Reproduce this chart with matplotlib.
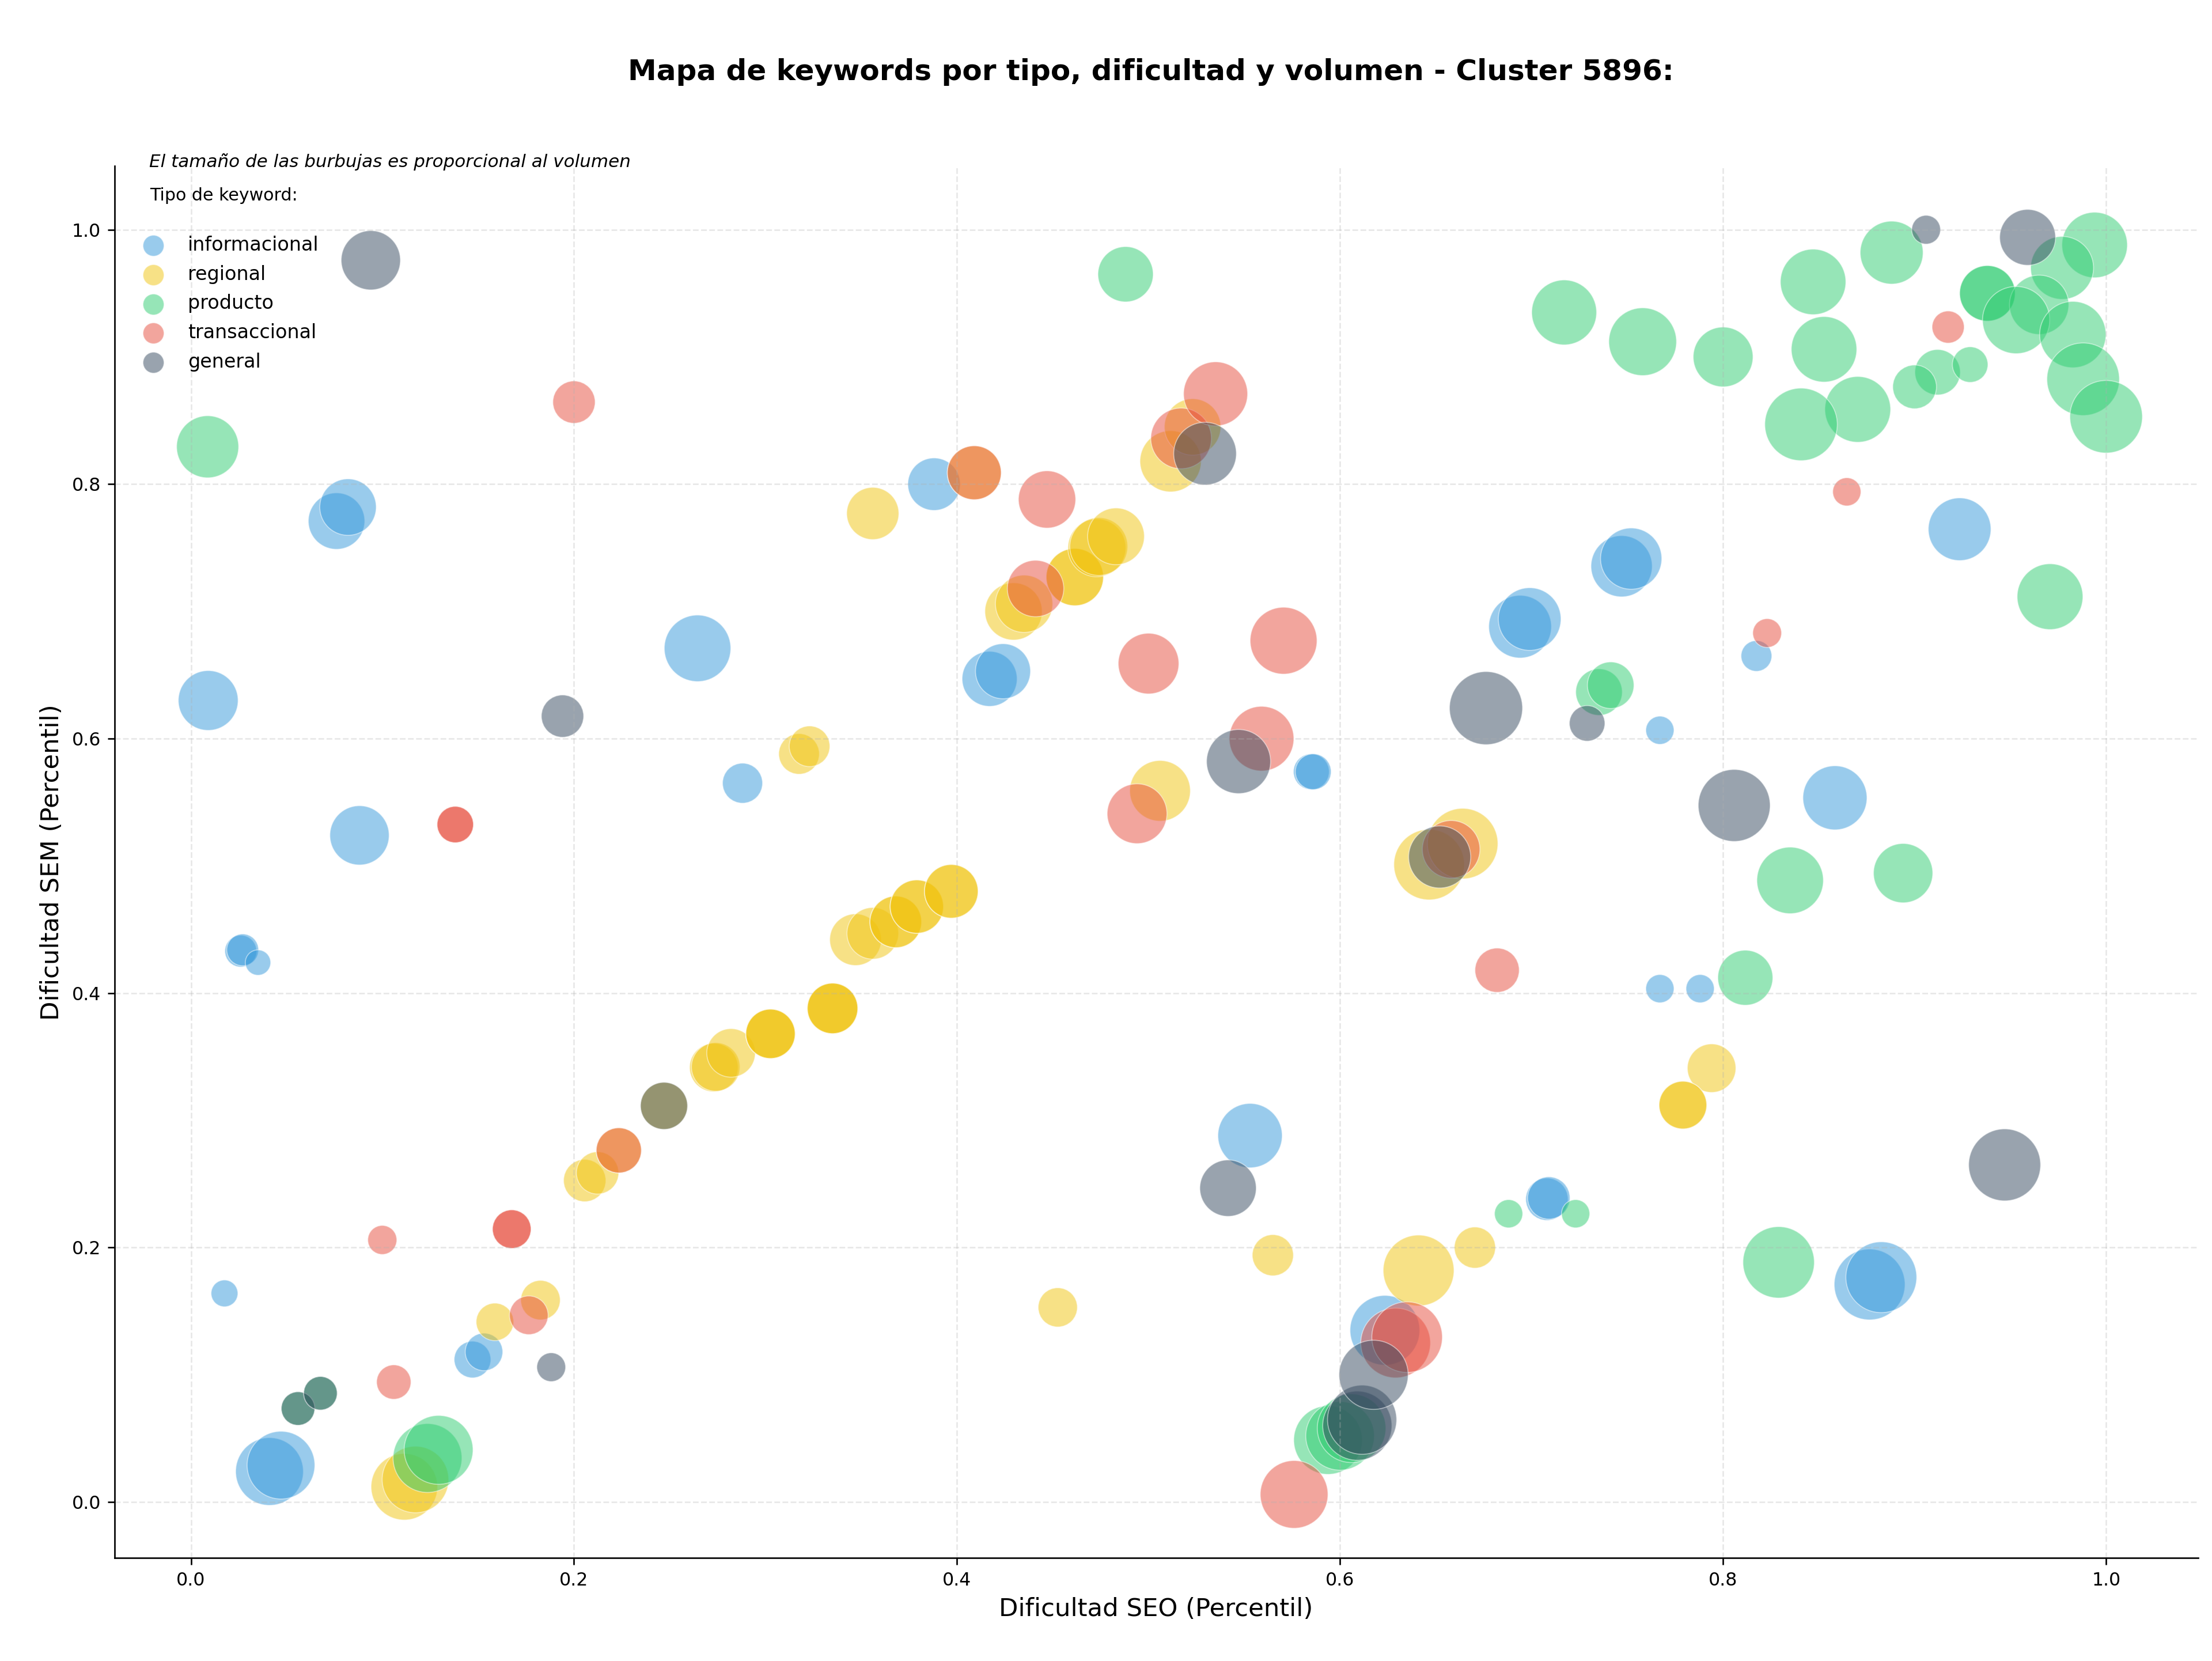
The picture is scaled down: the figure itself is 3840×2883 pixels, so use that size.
import matplotlib
matplotlib.use("Agg")
import matplotlib.pyplot as plt

# keyword data: SEO percentile, SEM percentile, volume
info_x = [0.009, 0.076, 0.082, 0.088, 0.026, 0.027, 0.035, 0.0175, 0.041, 0.047,
          0.147, 0.153, 0.2645, 0.288, 0.388, 0.417, 0.424, 0.585, 0.586, 0.553,
          0.694, 0.699, 0.747, 0.752, 0.767, 0.8174, 0.767, 0.788, 0.708, 0.709,
          0.8584, 0.9235, 0.8765, 0.8826, 0.6234]
info_y = [0.630, 0.771, 0.782, 0.524, 0.433, 0.434, 0.424, 0.164, 0.024, 0.029,
          0.112, 0.118, 0.671, 0.565, 0.800, 0.647, 0.653, 0.574, 0.574, 0.288,
          0.688, 0.694, 0.7355, 0.7415, 0.6066, 0.665, 0.4035, 0.4035, 0.238, 0.239,
          0.5535, 0.7646, 0.171, 0.1767, 0.135]
info_vol = [970, 864, 864, 953, 275, 275, 175, 195, 1244, 1244,
            365, 382, 1200, 435, 747, 821, 821, 348, 348, 1123,
            1065, 1065, 1017, 1017, 216, 257, 216, 216, 486, 486,
            1113, 1065, 1361, 1361, 1318]

reg_x = [0.356, 0.3175, 0.323, 0.2056, 0.2123, 0.2234, 0.247, 0.273, 0.274, 0.282,
         0.3026, 0.3026, 0.3026, 0.335, 0.335, 0.335, 0.347, 0.356, 0.368, 0.368,
         0.379, 0.379, 0.397, 0.397, 0.1587, 0.1825, 0.1114, 0.1172, 0.409, 0.4295,
         0.435, 0.4615, 0.4615, 0.473, 0.474, 0.483, 0.5115, 0.523, 0.506, 0.4526,
         0.5649, 0.641, 0.6704, 0.6465, 0.664, 0.794, 0.779, 0.779]
reg_y = [0.777, 0.588, 0.594, 0.2527, 0.2587, 0.2764, 0.3114, 0.3415, 0.342, 0.353,
         0.368, 0.368, 0.368, 0.388, 0.388, 0.388, 0.442, 0.447, 0.456, 0.456,
         0.468, 0.468, 0.480, 0.480, 0.1416, 0.1587, 0.012, 0.0177, 0.809, 0.700,
         0.706, 0.727, 0.727, 0.750, 0.751, 0.759, 0.818, 0.845, 0.559, 0.153,
         0.194, 0.182, 0.200, 0.501, 0.5175, 0.341, 0.312, 0.312]
reg_vol = [739, 448, 448, 486, 486, 553, 602, 639, 639, 639,
           661, 661, 661, 692, 692, 692, 723, 723, 723, 723,
           771, 771, 780, 780, 382, 423, 1200, 1200, 788, 890,
           890, 890, 890, 908, 908, 873, 1017, 864, 998, 417,
           460, 1361, 460, 1350, 1350, 639, 617, 617]

prod_x = [0.0087, 0.488, 0.1235, 0.1293, 0.0559, 0.0676, 0.5937, 0.600, 0.606, 0.688,
          0.723, 0.829, 0.8116, 0.835, 0.894, 0.7352, 0.7413, 0.9707, 0.717, 0.758,
          0.800, 0.847, 0.888, 0.994, 0.977, 0.938, 0.938, 0.965, 0.953, 0.9826,
          0.988, 1.000, 0.8527, 0.912, 0.929, 0.900, 0.8703, 0.8407]
prod_y = [0.8294, 0.965, 0.0346, 0.041, 0.0735, 0.0855, 0.0487, 0.052, 0.058, 0.2266,
          0.2266, 0.1884, 0.4121, 0.4886, 0.4943, 0.6366, 0.642, 0.7116, 0.935, 0.912,
          0.900, 0.959, 0.982, 0.988, 0.970, 0.950, 0.950, 0.941, 0.929, 0.9176,
          0.8825, 0.853, 0.906, 0.888, 0.894, 0.8765, 0.8588, 0.847]
prod_vol = [1045, 830, 1286, 1286, 306, 306, 1275, 1275, 1275, 216,
            216, 1383, 821, 1200, 953, 588, 588, 1173, 1143, 1244,
            970, 1163, 1074, 1163, 1074, 838, 838, 953, 1224, 1193,
            1427, 1427, 1163, 560, 343, 519, 1173, 1427]

trans_x = [0.200, 0.138, 0.138, 0.0999, 0.1675, 0.1675, 0.1764, 0.1059, 0.2234, 0.409,
           0.447, 0.441, 0.500, 0.5705, 0.559, 0.494, 0.517, 0.535, 0.576, 0.629,
           0.635, 0.682, 0.658, 0.8646, 0.9175, 0.823]
trans_y = [0.8645, 0.5325, 0.5325, 0.206, 0.2145, 0.2145, 0.1468, 0.0943, 0.2764, 0.809,
           0.788, 0.718, 0.659, 0.677, 0.600, 0.541, 0.836, 0.871, 0.006, 0.125,
           0.1296, 0.418, 0.513, 0.794, 0.9235, 0.683]
trans_vol = [486, 360, 360, 229, 405, 405, 405, 321, 553, 788,
             890, 864, 998, 1213, 1133, 970, 998, 1113, 1244, 1318,
             1350, 532, 900, 216, 281, 225]

gen_x = [0.0939, 0.194, 0.1881, 0.0559, 0.0676, 0.247, 0.5295, 0.547, 0.5415, 0.609,
         0.6115, 0.6175, 0.6762, 0.729, 0.8058, 0.947, 0.906, 0.959, 0.652]
gen_y = [0.976, 0.6177, 0.106, 0.0735, 0.0855, 0.3114, 0.824, 0.582, 0.2467, 0.060,
         0.0647, 0.100, 0.624, 0.612, 0.5475, 0.265, 1.000, 0.994, 0.507]
gen_vol = [953, 486, 225, 306, 306, 602, 1065, 1113, 864, 1297,
           1297, 1297, 1449, 343, 1405, 1405, 225, 847, 1045]

tipos = ["informacional", "regional", "producto", "transaccional", "general"]
colores = ["#3498db", "#f1c40f", "#2ecc71", "#e74c3c", "#34495e"]
series = [
    (info_x, info_y, info_vol),
    (reg_x, reg_y, reg_vol),
    (prod_x, prod_y, prod_vol),
    (trans_x, trans_y, trans_vol),
    (gen_x, gen_y, gen_vol),
]

fig = plt.figure(figsize=(16, 12.0125), dpi=240)
ax = fig.add_axes([0.0517, 0.062, 0.942, 0.838])

for tipo, color, (xs, ys, vols) in zip(tipos, colores, series):
    ax.scatter(xs, ys, s=vols, c=color, alpha=0.5, edgecolors="white",
               linewidths=0.5, label=tipo)

ax.set_xlim(-0.04, 1.048)
ax.set_ylim(-0.044, 1.05)
ax.set_xticks([0.0, 0.2, 0.4, 0.6, 0.8, 1.0])
ax.set_yticks([0.0, 0.2, 0.4, 0.6, 0.8, 1.0])
ax.tick_params(labelsize=9.5)
ax.grid(True, linestyle="--", alpha=0.3)
ax.spines["top"].set_visible(False)
ax.spines["right"].set_visible(False)

ax.set_xlabel("Dificultad SEO (Percentil)", fontsize=13)
ax.set_ylabel("Dificultad SEM (Percentil)", fontsize=13)
fig.suptitle("Mapa de keywords por tipo, dificultad y volumen - Cluster 5896:",
             fontsize=15, fontweight="bold", x=0.5204, y=0.965)

ax.text(0.0166, 1.003, "El tamaño de las burbujas es proporcional al volumen",
        transform=ax.transAxes, fontsize=9.3, style="italic", va="center")
ax.text(0.0169, 0.979, "Tipo de keyword:", transform=ax.transAxes,
        fontsize=9, va="center")

leg = ax.legend(loc="upper left", bbox_to_anchor=(0.0095, 0.950), frameon=False,
                fontsize=10, borderaxespad=0, borderpad=0, labelspacing=0.53)
for h in leg.legend_handles:
    h.set_sizes([120])

fig.savefig("out.png", dpi=240)
